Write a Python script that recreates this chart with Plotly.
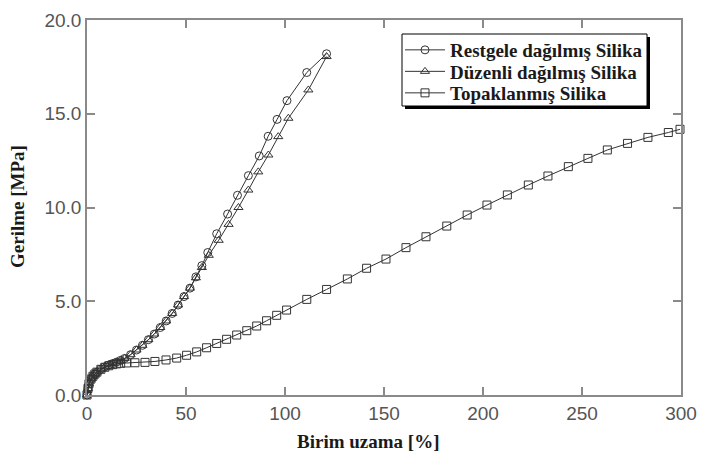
import plotly.graph_objects as go

# ---- data ----
restgele_x = [0, 0.5, 1, 2, 3, 4, 5, 7, 9, 11, 13, 15, 17, 19, 22, 25, 28, 31, 34, 37, 40,
              43, 46, 49, 52, 55, 58, 61, 65.5, 71, 76, 81.5, 87, 91.5, 96, 101, 111, 121]
restgele_y = [0, 0.35, 0.6, 0.85, 1.0, 1.12, 1.22, 1.38, 1.5, 1.6, 1.68, 1.76, 1.85, 1.95, 2.15,
              2.4, 2.65, 2.95, 3.25, 3.6, 3.95, 4.35, 4.8, 5.25, 5.7, 6.3, 6.9, 7.6, 8.6, 9.65,
              10.65, 11.7, 12.75, 13.8, 14.7, 15.7, 17.2, 18.2]

duzenli_x = [0, 0.5, 1, 2, 3, 4, 5, 7, 9, 11, 13, 15, 17, 19, 22, 25, 28, 31, 34, 37, 40,
             43, 46, 49, 52, 55, 58, 61.5, 66.5, 71.5, 76.5, 81.5, 86.5, 91.6, 96.6, 101.7, 111.8, 121]
duzenli_y = [0, 0.35, 0.6, 0.85, 1.0, 1.12, 1.22, 1.38, 1.5, 1.6, 1.68, 1.76, 1.85, 1.95, 2.15,
             2.4, 2.65, 2.95, 3.25, 3.6, 3.95, 4.35, 4.8, 5.25, 5.7, 6.25, 6.8, 7.45, 8.25, 9.1,
             10.0, 10.93, 11.9, 12.8, 13.78, 14.76, 16.27, 18.05]

topak_x = [0, 0.5, 1, 2, 3, 4, 5, 7, 9, 11, 13, 15, 17, 20, 24.2, 29.3, 34.3, 39.9, 45.3, 50.3,
           55.4, 60.4, 65.5, 70.5, 75.6, 80.7, 85.7, 90.7, 95.8, 100.8, 111, 121, 131.5, 141.2,
           151, 161.1, 171.2, 181.7, 192, 202, 212.3, 222.9, 232.8, 243.1, 253, 262.8, 273,
           283.3, 293.6, 299.5]
topak_y = [0, 0.35, 0.6, 0.85, 1.0, 1.12, 1.22, 1.37, 1.48, 1.56, 1.62, 1.66, 1.69, 1.71, 1.72,
           1.74, 1.79, 1.87, 1.97, 2.12, 2.3, 2.52, 2.75, 2.97, 3.2, 3.43, 3.68, 3.96, 4.25,
           4.53, 5.1, 5.63, 6.19, 6.76, 7.25, 7.86, 8.44, 9.01, 9.6, 10.13, 10.67, 11.2, 11.68,
           12.18, 12.62, 13.07, 13.42, 13.74, 14.0, 14.17]

series_names = ["Restgele dağılmış Silika", "Düzenli dağılmış Silika", "Topaklanmış Silika"]
x_tick_vals = [0, 50, 100, 150, 200, 250, 300]
y_tick_vals = [0, 5, 10, 15, 20]
x_title = "Birim uzama [%]"
y_title = "Gerilme [MPa]"

# ---- figure ----
W, H = 704, 454
ML, MR, MT, MB = 87, 23, 20, 59
PW, PH = W - ML - MR, H - MT - MB

def px_x(p):
    return (p - ML) / PW

def px_y(p):
    return (H - MB - p) / PH

line_col = "#333333"
legend_font = dict(family="Liberation Serif, Times New Roman", size=19,
                   color="#1a1a1a", weight="bold")
legend_ids = ["legend", "legend2", "legend3"]
legend_rows = [50, 71.5, 93]

fig = go.Figure()
for (xs, ys, sym), name, lid in zip([(restgele_x, restgele_y, "circle-open"),
                                      (duzenli_x, duzenli_y, "triangle-up-open"),
                                      (topak_x, topak_y, "square-open")],
                                     series_names, legend_ids):
    fig.add_trace(go.Scatter(
        x=xs, y=ys, name=name, mode="lines+markers", cliponaxis=False, legend=lid,
        line=dict(color=line_col, width=1),
        marker=dict(symbol=sym, size=8, color=line_col, line=dict(color=line_col, width=1)),
    ))

# legend box with shadow
fig.add_shape(type="rect", xref="paper", yref="paper", layer="below",
              x0=px_x(405), x1=px_x(650), y0=px_y(109), y1=px_y(37),
              fillcolor="black", line=dict(width=0))
fig.add_shape(type="rect", xref="paper", yref="paper", layer="below",
              x0=px_x(402), x1=px_x(647), y0=px_y(106), y1=px_y(34),
              fillcolor="white", line=dict(color="black", width=1))

tick_font = dict(family="Liberation Sans, Arial", size=19, color="#555555")
title_font = dict(family="Liberation Serif, Times New Roman", size=19, color="#1a1a1a", weight="bold")
axis_common = dict(showline=True, linecolor="#8a8a8a", linewidth=1.5, mirror="ticks",
                   ticks="inside", ticklen=8, tickwidth=1.5, tickcolor="#8a8a8a",
                   showgrid=False, zeroline=False, tickfont=tick_font)

legend_layout = {}
for lid, row in zip(legend_ids, legend_rows):
    legend_layout[lid] = dict(x=px_x(400), y=px_y(row), xanchor="left", yanchor="middle",
                              bgcolor="rgba(0,0,0,0)", borderwidth=0, itemwidth=40,
                              font=legend_font)

fig.update_layout(
    width=W, height=H,
    margin=dict(l=ML, r=MR, t=MT, b=MB, autoexpand=False),
    paper_bgcolor="white", plot_bgcolor="white",
    xaxis=dict(range=[0, 300], tickvals=x_tick_vals, **axis_common),
    yaxis=dict(range=[0, 20], tickvals=y_tick_vals, tickformat=".1f", **axis_common),
    showlegend=True,
    annotations=[
        dict(text=x_title, xref="paper", yref="paper", x=px_x(368), y=px_y(441),
             xanchor="center", yanchor="middle", showarrow=False, font=title_font),
        dict(text=y_title, xref="paper", yref="paper", x=px_x(17), y=px_y(207),
             xanchor="center", yanchor="middle", showarrow=False, textangle=-90,
             font=title_font),
    ],
    **legend_layout,
)

fig.write_html("out.html")
